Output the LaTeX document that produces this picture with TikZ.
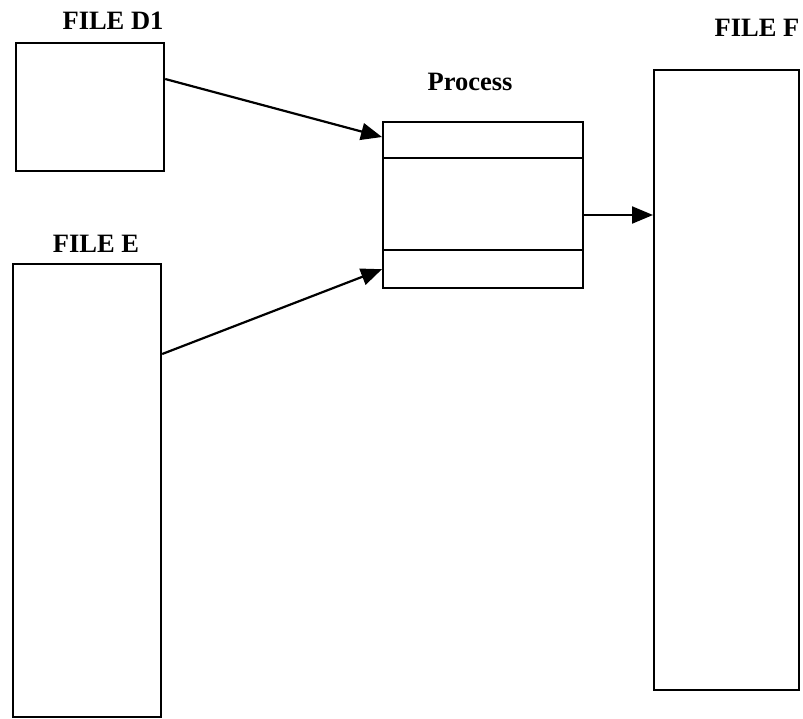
\documentclass[tikz,border=0pt]{standalone}
\usepackage{fontspec}
\setmainfont{Liberation Serif}
\usetikzlibrary{arrows.meta,calc}
\begin{document}
\begin{tikzpicture}[x=1pt,y=-1pt,
  filebox/.style={draw,line width=2.2pt,inner sep=0pt,anchor=north west},
  lbl/.style={font=\fontsize{26.5}{30}\selectfont\bfseries,inner sep=0pt},
  flow/.style={line width=2.2pt,-{Triangle[length=21pt,width=17pt]}}]
\useasboundingbox (0,0) rectangle (803,718);
\node[filebox,minimum width=148pt,minimum height=128pt] (d1) at (15,42) {};
\node[filebox,minimum width=148pt,minimum height=453pt] (e) at (12,263) {};
\node[filebox,minimum width=200pt,minimum height=166pt] (proc) at (382,121) {};
\node[filebox,minimum width=145pt,minimum height=620pt] (f) at (653,69) {};
\draw[line width=2.2pt] ($(proc.north west)+(0,37)$) -- ($(proc.north east)+(0,37)$);
\draw[line width=2.2pt] ($(proc.south west)+(0,-39)$) -- ($(proc.south east)+(0,-39)$);
\node[lbl] (ld1) at (113,21) {FILE D1};
\node[lbl] (le) at (96,244) {FILE E};
\node[lbl] (lp) at (470,82) {Process};
\node[lbl] (lf) at (757,28) {FILE F};
\coordinate (a1s) at ($(d1.north east)+(0,37)$);
\coordinate (a1e) at ($(proc.north west)+(0,16)$);
\coordinate (a2s) at ($(e.north east)+(0,91)$);
\coordinate (a2e) at ($(proc.south west)+(0,-20)$);
\coordinate (a3s) at ($(proc.north east)+(0,94)$);
\coordinate (a3e) at ($(f.north west)+(0,146)$);
\draw[flow] (a1s) -- (a1e);
\draw[flow] (a2s) -- (a2e);
\draw[flow] (a3s) -- (a3e);
\end{tikzpicture}
\end{document}
